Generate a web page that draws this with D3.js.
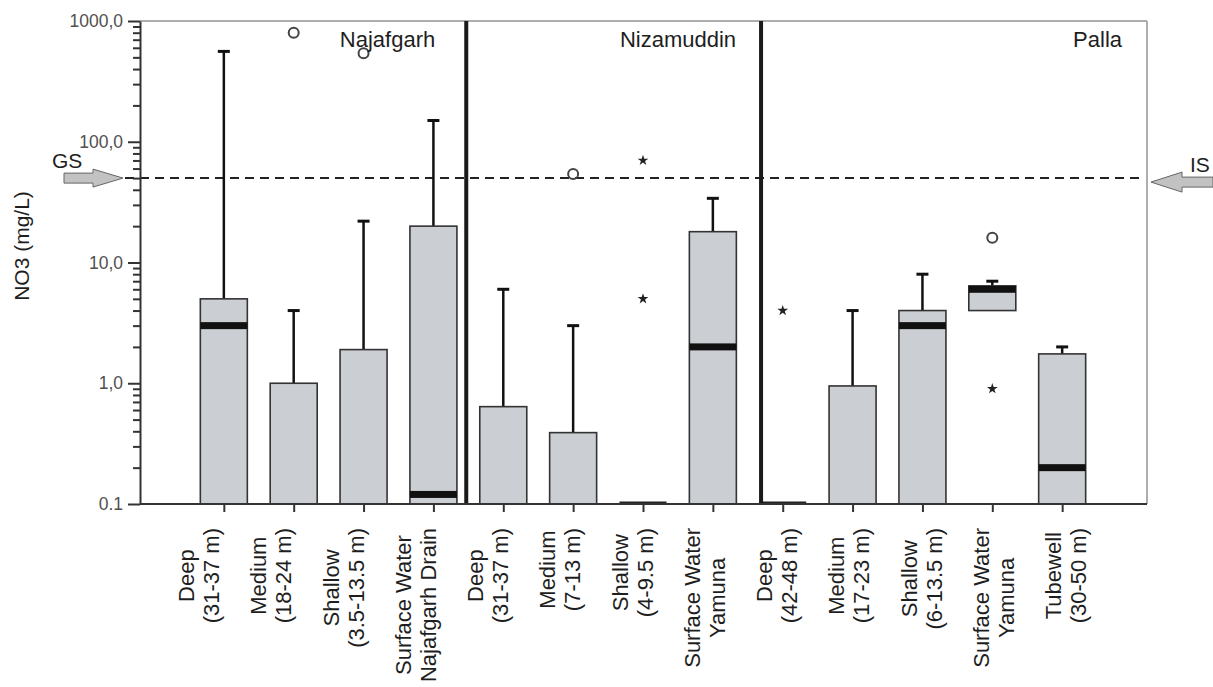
<!DOCTYPE html>
<html>
<head>
<meta charset="utf-8">
<script src="https://cdn.jsdelivr.net/npm/d3@7"></script>
<style>
  body { margin: 0; background: #fff; }
  svg { display: block; font-family: "Liberation Sans", Arial, sans-serif; }
</style>
</head>
<body>
<svg id="chart" width="1213" height="687"></svg>
<script>
// NO3 box plots per well depth / site
const labelLines = [
  ['Deep', '(31-37 m)'], ['Medium', '(18-24 m)'], ['Shallow', '(3.5-13.5 m)'], ['Surface Water', 'Najafgarh Drain'],
  ['Deep', '(31-37 m)'], ['Medium', '(7-13 m)'], ['Shallow', '(4-9.5 m)'], ['Surface Water', 'Yamuna'],
  ['Deep', '(42-48 m)'], ['Medium', '(17-23 m)'], ['Shallow', '(6-13.5 m)'], ['Surface Water', 'Yamuna'], ['Tubewell', '(30-50 m)']
];
const site = ['Najafgarh', 'Najafgarh', 'Najafgarh', 'Najafgarh',
  'Nizamuddin', 'Nizamuddin', 'Nizamuddin', 'Nizamuddin',
  'Palla', 'Palla', 'Palla', 'Palla', 'Palla'];
const regions = ['Najafgarh', 'Nizamuddin', 'Palla'];

const q1          = [0.1, 0.1, 0.1, 0.1,  0.1, 0.1, 0.1, 0.1,  0.1, 0.1, 0.1, 4.0, 0.1];
const median      = [3.0, 0.1, 0.1, 0.12, 0.1, 0.1, 0.1, 2.0,  0.1, 0.1, 3.0, 6.0, 0.2];
const q3          = [5.0, 1.0, 1.9, 20,   0.64, 0.39, 0.1, 18, 0.1, 0.95, 4.0, 6.4, 1.75];
const whiskerLow  = [0.1, 0.1, 0.1, 0.1,  0.1, 0.1, 0.1, 0.1,  0.1, 0.1, 0.1, 4.0, 0.1];
const whiskerHigh = [560, 4, 22, 150,     6, 3, 0.1, 34,       0.1, 4, 8, 7, 2.0];
const outliers = [[], [800], [540], [], [], [54], [], [], [], [], [], [16], []];
const extremes = [[], [], [], [], [], [], [70, 5], [], [4], [], [], [0.9], []];

const guideline = 50;
const yTickValues = [0.1, 1, 10, 100, 1000];
const yTickLabels = ['0.1', '1,0', '10,0', '100,0', '1000,0'];

const svg = d3.select('#chart');
const margin = { top: 21, right: 66, bottom: 183, left: 140 };
const W = 1213, H = 687;
const plotRight = W - margin.right;   // 1147
const plotBottom = H - margin.bottom; // 504

const n = labelLines.length;
const x = d3.scalePoint()
  .domain(d3.range(n))
  .range([margin.left, plotRight - 1])
  .padding(1.2);
const step = x.step();

// category labels in the figure sit on a slightly wider spacing than the ticks
const xLabel = d3.scalePoint()
  .domain(d3.range(n))
  .range([201, 1068]);

const y = d3.scaleLog()
  .domain([0.1, 1000])
  .range([plotBottom, margin.top]);

const boxW = 47;

svg.append('defs').append('clipPath').attr('id', 'plotclip')
  .append('rect')
  .attr('x', margin.left).attr('y', margin.top)
  .attr('width', plotRight - margin.left).attr('height', plotBottom - margin.top);

// frame (top and right in grey)
svg.append('line')
  .attr('x1', margin.left).attr('x2', plotRight)
  .attr('y1', margin.top).attr('y2', margin.top)
  .attr('stroke', '#adadad').attr('stroke-width', 2);
svg.append('line')
  .attr('x1', plotRight).attr('x2', plotRight)
  .attr('y1', margin.top).attr('y2', plotBottom)
  .attr('stroke', '#adadad').attr('stroke-width', 2);

// guideline value
svg.append('line')
  .attr('x1', margin.left - 15).attr('x2', plotRight - 6)
  .attr('y1', y(guideline)).attr('y2', y(guideline))
  .attr('stroke', '#222').attr('stroke-width', 2)
  .attr('stroke-dasharray', '9,6');

const plot = svg.append('g').attr('clip-path', 'url(#plotclip)');
const idx = d3.range(n);

// whiskers
const wg = plot.append('g').attr('stroke', '#111').attr('stroke-width', 2.5);
idx.filter(i => whiskerHigh[i] > q3[i]).forEach(i => {
  wg.append('line').attr('x1', x(i)).attr('x2', x(i))
    .attr('y1', y(q3[i])).attr('y2', y(whiskerHigh[i]));
  wg.append('line').attr('x1', x(i) - 6).attr('x2', x(i) + 6)
    .attr('y1', y(whiskerHigh[i])).attr('y2', y(whiskerHigh[i]))
    .attr('stroke-width', 3);
});
idx.filter(i => whiskerLow[i] < q1[i]).forEach(i => {
  wg.append('line').attr('x1', x(i)).attr('x2', x(i))
    .attr('y1', y(q1[i])).attr('y2', y(whiskerLow[i]));
  wg.append('line').attr('x1', x(i) - 6).attr('x2', x(i) + 6)
    .attr('y1', y(whiskerLow[i])).attr('y2', y(whiskerLow[i]))
    .attr('stroke-width', 3);
});

// boxes
plot.append('g').selectAll('rect')
  .data(idx.filter(i => q3[i] > q1[i]))
  .join('rect')
  .attr('x', i => x(i) - boxW / 2)
  .attr('y', i => y(q3[i]))
  .attr('width', boxW)
  .attr('height', i => y(q1[i]) - y(q3[i]))
  .attr('fill', '#cbced2')
  .attr('stroke', '#333')
  .attr('stroke-width', 1.6);

// medians
plot.append('g').selectAll('rect')
  .data(idx.filter(i => median[i] > 0.1))
  .join('rect')
  .attr('x', i => x(i) - boxW / 2)
  .attr('y', i => y(median[i]) - 3.5)
  .attr('width', boxW)
  .attr('height', 7)
  .attr('fill', '#111');

// collapsed boxes (all values at the lower limit)
svg.append('g').selectAll('line')
  .data(idx.filter(i => q3[i] <= q1[i]))
  .join('line')
  .attr('x1', i => x(i) - boxW / 2).attr('x2', i => x(i) + boxW / 2)
  .attr('y1', i => y(q1[i]) - 1).attr('y2', i => y(q1[i]) - 1)
  .attr('stroke', '#222').attr('stroke-width', 3);

// outliers (circles) and extremes (stars)
const outPts = idx.flatMap(i => outliers[i].map(v => ({ i, v })));
const extPts = idx.flatMap(i => extremes[i].map(v => ({ i, v })));

svg.append('g').selectAll('circle')
  .data(outPts)
  .join('circle')
  .attr('cx', d => x(d.i))
  .attr('cy', d => y(d.v))
  .attr('r', 5)
  .attr('fill', 'none')
  .attr('stroke', '#444')
  .attr('stroke-width', 2);

svg.append('g').selectAll('path')
  .data(extPts)
  .join('path')
  .attr('transform', d => `translate(${x(d.i)},${y(d.v)})`)
  .attr('d', d3.symbol(d3.symbolStar, 36))
  .attr('fill', '#222');

// site separators
const sepX = [x(3) + 0.47 * step, x(7) + 0.69 * step];
svg.append('g').selectAll('line')
  .data(sepX)
  .join('line')
  .attr('x1', d => d).attr('x2', d => d)
  .attr('y1', margin.top).attr('y2', plotBottom)
  .attr('stroke', '#1a1a1a').attr('stroke-width', 4);

// site names, right aligned in each panel
const panelRight = [sepX[0] - 6, sepX[1], plotRight];
svg.append('g').selectAll('text')
  .data(regions)
  .join('text')
  .attr('x', (d, k) => panelRight[k] - 25)
  .attr('y', 47)
  .attr('text-anchor', 'end')
  .attr('font-size', 22)
  .attr('fill', '#1e1e1e')
  .text(d => d);

// y axis: major + minor ticks
const yAxisMinor = d3.axisLeft(y)
  .tickValues(y.ticks().filter(v => !yTickValues.some(t => Math.abs(t - v) < 1e-9)))
  .tickSize(7).tickSizeOuter(0).tickFormat('');
const minorG = svg.append('g').attr('transform', `translate(${margin.left},0)`).call(yAxisMinor);
minorG.select('.domain').remove();
minorG.selectAll('line').attr('stroke', '#333').attr('stroke-width', 2);

const yAxis = d3.axisLeft(y)
  .tickValues(yTickValues)
  .tickSize(12).tickSizeOuter(0).tickPadding(5)
  .tickFormat((d, k) => yTickLabels[k]);
const yG = svg.append('g').attr('transform', `translate(${margin.left},0)`).call(yAxis);
yG.select('.domain').attr('stroke', '#333').attr('stroke-width', 2);
yG.selectAll('line').attr('stroke', '#333').attr('stroke-width', 2);
yG.selectAll('text')
  .attr('font-size', 17.5)
  .attr('font-family', '"Liberation Sans", Arial, sans-serif')
  .attr('fill', '#505050');

svg.append('text')
  .attr('transform', `translate(29,246) rotate(-90)`)
  .attr('text-anchor', 'middle')
  .attr('font-size', 21)
  .attr('fill', '#1e1e1e')
  .text('NO3 (mg/L)');

// x axis
const xAxis = d3.axisBottom(x).tickSize(8).tickSizeOuter(0).tickFormat('');
const xG = svg.append('g').attr('transform', `translate(0,${plotBottom})`).call(xAxis);
xG.select('.domain')
  .attr('d', `M${margin.left},0H${plotRight}`)
  .attr('stroke', '#333').attr('stroke-width', 2);
xG.selectAll('line').attr('stroke', '#333').attr('stroke-width', 2);

// rotated two-line category labels, top aligned at y = 528
const labels = svg.append('g').selectAll('text')
  .data(labelLines)
  .join('text')
  .attr('text-anchor', 'middle')
  .attr('font-size', 22)
  .attr('fill', '#1e1e1e');
labels.selectAll('tspan')
  .data(d => d)
  .join('tspan')
  .attr('x', 0)
  .attr('y', (d, k) => k === 0 ? -7 : 18)
  .text(d => d);
labels.each(function(d, i) {
  const w = d3.max(d3.select(this).selectAll('tspan').nodes(), t => t.getComputedTextLength());
  d3.select(this).attr('transform', `translate(${xLabel(i)},${528 + w / 2}) rotate(-90)`);
});

// GS / IS arrows at the guideline
const arrowY = y(guideline);
svg.append('path')
  .attr('transform', `translate(123,${arrowY})`)
  .attr('d', 'M0,0L-30,-9L-30,-5L-59,-5L-59,5L-30,5L-30,9Z')
  .attr('fill', '#c2c2c2').attr('stroke', '#666').attr('stroke-width', 1);
svg.append('text')
  .attr('x', 52).attr('y', arrowY - 10)
  .attr('font-size', 21).attr('fill', '#1e1e1e')
  .text('GS');

svg.append('path')
  .attr('transform', `translate(1151,${arrowY + 4})`)
  .attr('d', 'M0,0L31,-10L31,-5L62,-5L62,5L31,5L31,10Z')
  .attr('fill', '#c2c2c2').attr('stroke', '#666').attr('stroke-width', 1);
svg.append('text')
  .attr('x', 1190).attr('y', arrowY - 6)
  .attr('font-size', 21).attr('fill', '#1e1e1e')
  .text('IS');
</script>
</body>
</html>
